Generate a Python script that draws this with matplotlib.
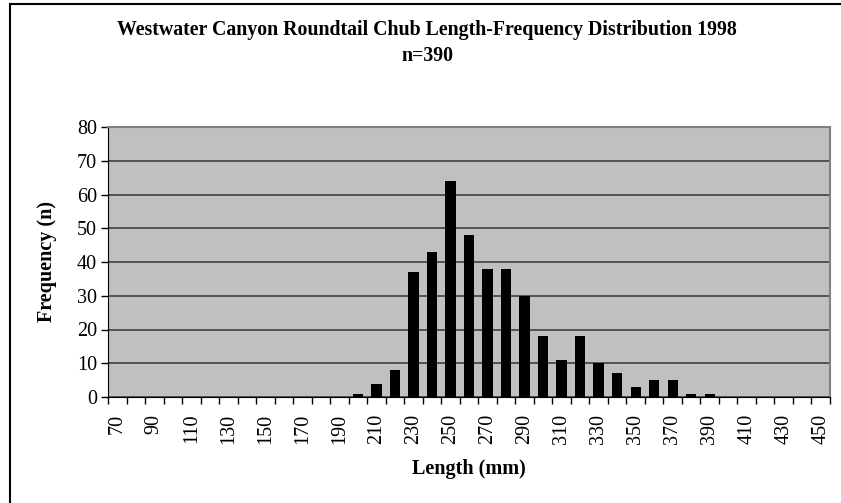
import numpy as np
import matplotlib
matplotlib.use('Agg')
import matplotlib.pyplot as plt
from matplotlib.lines import Line2D

# length classes (mm) and counts
lengths = list(range(70, 460, 10))
counts = [0] * 13 + [1, 4, 8, 37, 43, 64, 48, 38, 38, 30, 18, 11, 18, 10, 7, 3, 5, 5, 1, 1] + [0] * 6
tick_labels = [str(v) if i % 2 == 0 else '' for i, v in enumerate(lengths)]

plt.rcParams['font.family'] = ['Liberation Serif', 'DejaVu Serif']

fig = plt.figure(figsize=(8.41, 5.03), dpi=100)
ax = fig.add_axes([108 / 841, 1 - 397 / 503, (830 - 108) / 841, (397 - 127) / 503])

x = np.arange(len(lengths))
ax.bar(x, counts, width=0.55, color='black', zorder=3)

ax.set_facecolor('#c0c0c0')
ax.set_xlim(-0.5, len(lengths) - 0.5)
ax.set_ylim(0, 80)
ax.set_yticks(range(0, 81, 10))
ax.tick_params(axis='y', labelsize=14.5, length=5, width=1, direction='out', pad=3)
ax.yaxis.grid(True, color='#404040', linewidth=1.2, zorder=1)

ax.set_xticks(x)
ax.set_xticklabels(tick_labels, rotation=90, fontsize=14.5)
ax.tick_params(axis='x', length=0, pad=12)
ax.set_xticks(np.arange(len(lengths) + 1) - 0.5, minor=True)
ax.tick_params(axis='x', which='minor', length=5, width=1, direction='out')

for side in ['top', 'right']:
    ax.spines[side].set_color('#808080')
    ax.spines[side].set_linewidth(1.5)
ax.spines['left'].set_color('black')
ax.spines['bottom'].set_color('black')

ax.set_ylabel('Frequency (n)', fontsize=14.5, fontweight='bold', labelpad=14)
ax.set_xlabel('Length (mm)', fontsize=14.5, fontweight='bold', labelpad=11)

fig.text(0.508, 1 - 30 / 503, 'Westwater Canyon Roundtail Chub Length-Frequency Distribution 1998',
         ha='center', va='center', fontsize=14.3, fontweight='bold')
fig.text(0.508, 1 - 56 / 503, 'n=390', ha='center', va='center', fontsize=14.3, fontweight='bold')

# outer chart border (cropped at right/bottom)
fig.add_artist(Line2D([10 / 841, 10 / 841], [0, 1 - 4 / 503], color='black', linewidth=1.5,
                      transform=fig.transFigure))
fig.add_artist(Line2D([10 / 841, 1], [1 - 4 / 503, 1 - 4 / 503], color='black', linewidth=1.5,
                      transform=fig.transFigure))

fig.savefig('out.png', dpi=100)
